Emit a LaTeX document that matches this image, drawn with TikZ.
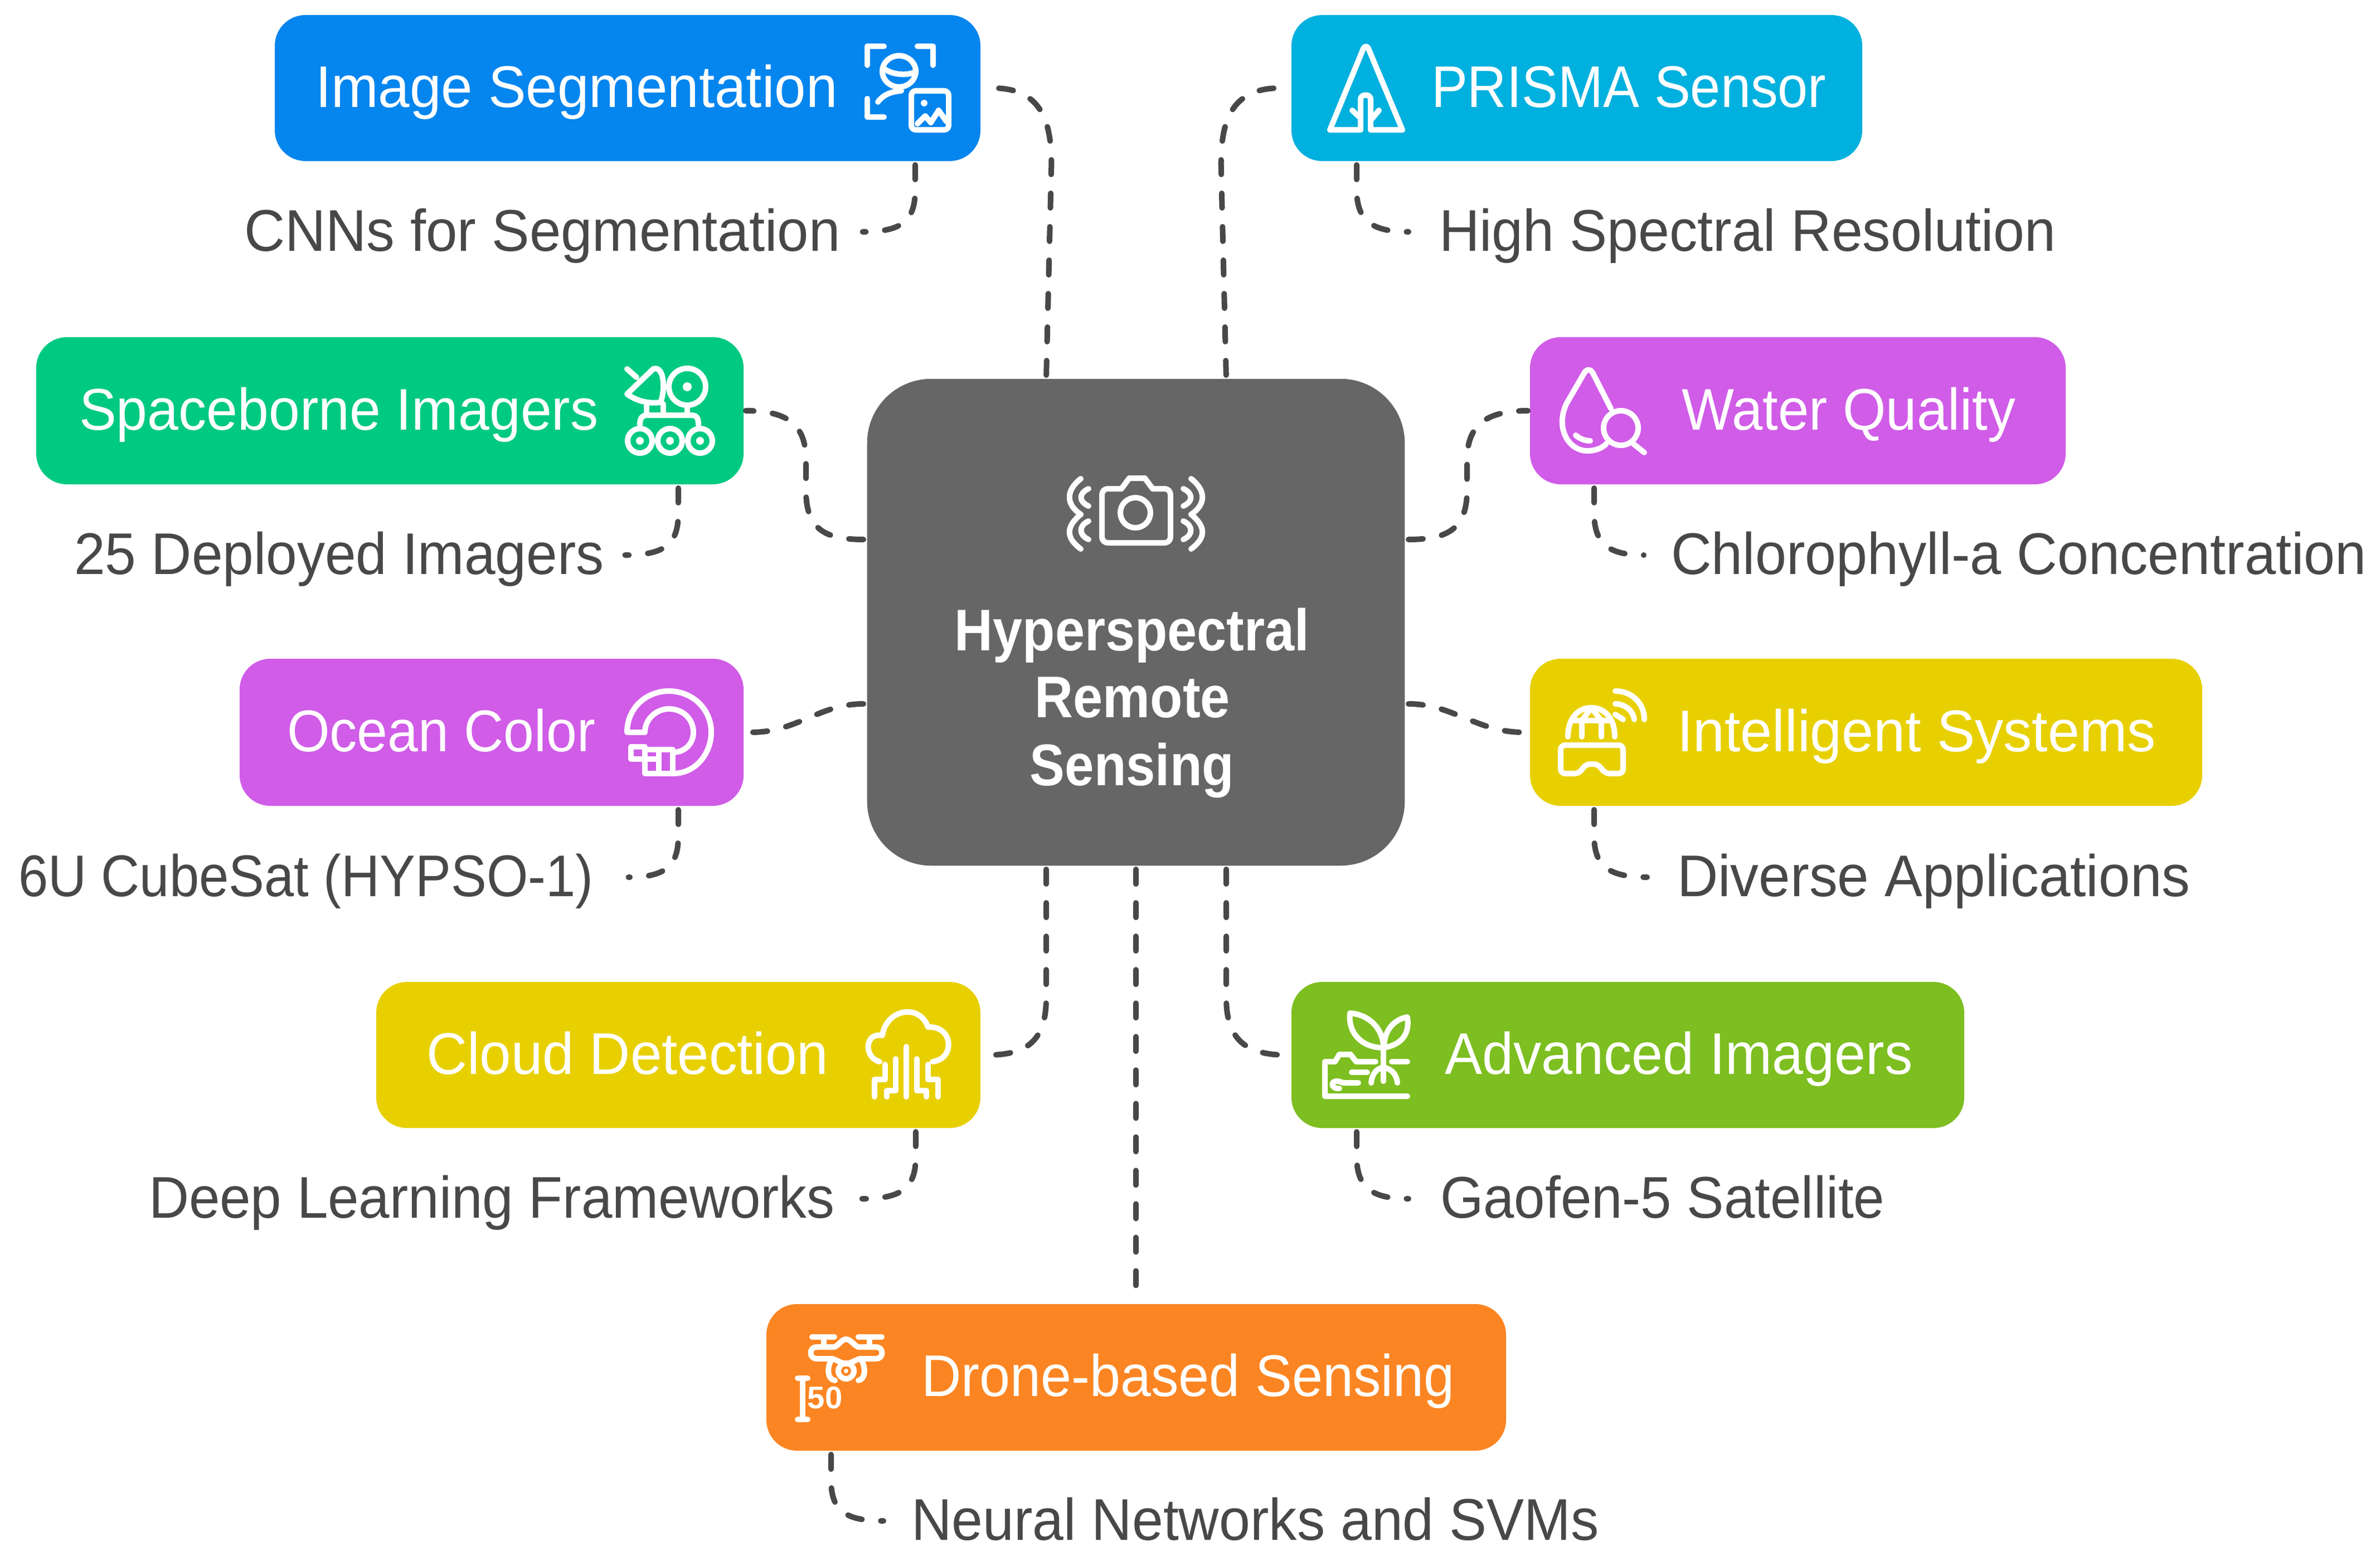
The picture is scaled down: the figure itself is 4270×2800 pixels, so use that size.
\documentclass[tikz,border=0pt]{standalone}
\usepackage{fontspec}
\usepackage{graphicx}
\setmainfont{Liberation Sans}
\definecolor{cblue}{HTML}{0585EE}
\definecolor{ccyan}{HTML}{00B0DE}
\definecolor{cgreen}{HTML}{00C982}
\definecolor{cpurple}{HTML}{D05CE8}
\definecolor{cyellow}{HTML}{E8D000}
\definecolor{clime}{HTML}{7DBE20}
\definecolor{corange}{HTML}{FB8522}
\definecolor{cgray}{HTML}{666666}
\definecolor{cink}{HTML}{484848}
\tikzset{
  box/.style={rectangle,rounded corners=0.55cm,draw=none,inner sep=0pt,outer sep=0pt},
  hub/.style={box,rounded corners=1.15cm},
  lab/.style={font=\fontsize{30}{36}\selectfont,text=white,inner sep=0pt,outer sep=0pt,text height=23.3pt,text depth=3.5pt,anchor=west},
  sublab/.style={lab,text=cink},
  hublab/.style={lab,font=\fontsize{30}{36}\selectfont\bfseries,anchor=center},
  conn/.style={draw=cink,line width=0.1cm,line cap=round,dash pattern=on 0.26cm off 0.34cm,shorten <=0.07cm},
  icon/.style={draw=white,line width=0.1cm,line cap=round,line join=round},
}
\newcommand\bx[6]{\node[box,fill=#2,minimum width=#5*0.01cm,minimum height=#6*0.01cm] (#1) at (#3,#4) {};}
\newcommand\lb[6]{\node[#2] (#1) at (#3,#4) {\resizebox{#5cm}{\height}{#6}};}
\begin{document}
\begin{tikzpicture}[x=0.01cm,y=-0.01cm]
\useasboundingbox (0,0) rectangle (4270,2800);

% boxes
\node[hub,fill=cgray,minimum width=9.64cm,minimum height=8.73cm] (hub) at (2038,1116.5) {};
\bx{seg}{cblue}{1126}{158}{1266}{262}
\bx{prisma}{ccyan}{2829}{158}{1024}{262}
\bx{space}{cgreen}{699.5}{737}{1269}{264}
\bx{water}{cpurple}{3225.5}{737}{961}{264}
\bx{ocean}{cpurple}{882}{1314}{904}{264}
\bx{intel}{cyellow}{3348}{1314}{1206}{264}
\bx{cloud}{cyellow}{1217}{1893}{1084}{262}
\bx{adv}{clime}{2920.5}{1893}{1207}{262}
\bx{drone}{corange}{2038.5}{2471.5}{1327}{263}

% labels
\lb{segL}{lab}{566}{158}{9.36}{Image Segmentation}
\lb{prismaL}{lab}{2568}{158}{7.08}{PRISMA Sensor}
\lb{spaceL}{lab}{142}{737}{9.31}{Spaceborne Imagers}
\lb{waterL}{lab}{3017}{737}{5.99}{Water Quality}
\lb{oceanL}{lab}{515}{1314}{5.53}{Ocean Color}
\lb{intelL}{lab}{3009}{1314}{8.58}{Intelligent Systems}
\lb{cloudL}{lab}{765}{1893}{7.21}{Cloud Detection}
\lb{advL}{lab}{2592}{1893}{8.39}{Advanced Imagers}
\lb{droneL}{lab}{1653}{2471}{9.56}{Drone-based Sensing}
\lb{segS}{sublab}{438}{416}{10.69}{CNNs for Segmentation}
\lb{prismaS}{sublab}{2582}{416}{11.06}{High Spectral Resolution}
\lb{spaceS}{sublab}{133}{996}{9.50}{25 Deployed Imagers}
\lb{waterS}{sublab}{2998}{996}{12.47}{Chlorophyll-a Concentration}
\lb{oceanS}{sublab}{33}{1574}{10.31}{6U CubeSat (HYPSO-1)}
\lb{intelS}{sublab}{3009}{1574}{9.20}{Diverse Applications}
\lb{cloudS}{sublab}{267}{2151}{12.30}{Deep Learning Frameworks}
\lb{advS}{sublab}{2584}{2151}{7.97}{Gaofen-5 Satellite}
\lb{droneS}{sublab}{1635}{2729}{12.33}{Neural Networks and SVMs}
\lb{hubA}{hublab}{2031}{1133}{6.36}{Hyperspectral}
\lb{hubB}{hublab}{2032}{1253}{3.50}{Remote}
\lb{hubC}{hublab}{2031}{1375}{3.66}{Sensing}

% ports on the hub
\coordinate (hN1) at (1877,680);
\coordinate (hN2) at (2200,680);
\coordinate (hW1) at (1556,968);
\coordinate (hW2) at (1556,1263);
\coordinate (hE1) at (2520,968);
\coordinate (hE2) at (2520,1263);
\coordinate (hS1) at (1877,1553);
\coordinate (hS2) at (2038,1553);
\coordinate (hS3) at (2200,1553);
% ports under the boxes
\coordinate (segB) at (1642,289);
\coordinate (prismaB) at (2434,289);
\coordinate (spaceB) at (1217,869);
\coordinate (waterB) at (2860,869);
\coordinate (oceanB) at (1217,1446);
\coordinate (intelB) at (2860,1446);
\coordinate (cloudB) at (1643,2024);
\coordinate (advB) at (2434,2024);
\coordinate (droneB) at (1491,2603);

% hub connectors
\draw[conn,shorten >=0.22cm] (hN1) -- (1886,310) .. controls (1889,220) and (1870,158) .. (seg.east);
\draw[conn,shorten >=0.2cm] (hN2) -- (2191,310) .. controls (2188,220) and (2207,158) .. (prisma.west);
\draw[conn,shorten >=0.04cm] (hW1) .. controls (1480,968) and (1446,950) .. (1446,880) -- (1446,825) .. controls (1446,760) and (1410,737) .. (space.east);
\draw[conn,shorten >=0.04cm] (hE1) .. controls (2596,968) and (2632,950) .. (2632,880) -- (2632,825) .. controls (2632,760) and (2670,737) .. (water.west);
\draw[conn,shorten >=0.14cm] (hW2) .. controls (1470,1263) and (1430,1314) .. (ocean.east);
\draw[conn,shorten >=0.12cm] (hE2) .. controls (2606,1263) and (2650,1314) .. (intel.west);
\draw[conn,shorten >=0.14cm] (hS1) -- (1877,1790) .. controls (1877,1860) and (1850,1893) .. (cloud.east);
\draw[conn,shorten >=0.1cm] (hS3) -- (2200,1790) .. controls (2200,1860) and (2230,1893) .. (adv.west);
\draw[conn,shorten >=0.18cm] (hS2) -- (drone.north -| hS2);

% sub connectors
\draw[conn,shorten >=0.40cm] (segB) -- (1642,340) .. controls (1642,395) and (1620,416) .. (segS.east);
\draw[conn,shorten >=0.55cm] (prismaB) -- (2434,340) .. controls (2434,395) and (2460,416) .. (prismaS.west);
\draw[conn,shorten >=0.38cm] (spaceB) -- (1217,920) .. controls (1217,975) and (1195,996) .. (spaceS.east);
\draw[conn,shorten >=0.49cm] (waterB) -- (2860,920) .. controls (2860,975) and (2885,996) .. (waterS.west);
\draw[conn,shorten >=0.63cm] (oceanB) -- (1217,1500) .. controls (1217,1553) and (1195,1574) .. (oceanS.east);
\draw[conn,shorten >=0.54cm] (intelB) -- (2860,1500) .. controls (2860,1553) and (2885,1574) .. (intelS.west);
\draw[conn,shorten >=0.49cm] (cloudB) -- (1643,2075) .. controls (1643,2130) and (1620,2151) .. (cloudS.east);
\draw[conn,shorten >=0.57cm] (advB) -- (2434,2075) .. controls (2434,2130) and (2460,2151) .. (advS.west);
\draw[conn,shorten >=0.50cm] (droneB) -- (1491,2655) .. controls (1491,2710) and (1515,2729) .. (droneS.west);

% icon: hub camera
\begin{scope}[icon]
\draw (2012,877) -- (2026,858) -- (2054,858) -- (2068,877) -- (2088,877) .. controls (2096,877) and (2100,881) .. (2100,889) -- (2100,962) .. controls (2100,970) and (2096,974) .. (2088,974) -- (1989,974) .. controls (1981,974) and (1977,970) .. (1977,962) -- (1977,889) .. controls (1977,881) and (1981,877) .. (1989,877) -- cycle;
\draw (2037,920) circle[x radius=27,y radius=27];
\draw (1939,859) .. controls (1912,880) and (1912,905) .. (1939,923) .. controls (1912,945) and (1912,965) .. (1939,985);
\draw (1953,877) .. controls (1935,885) and (1935,900) .. (1953,908);
\draw (1953,935) .. controls (1935,943) and (1935,960) .. (1953,968);
\draw (2137,859) .. controls (2164,880) and (2164,905) .. (2137,923) .. controls (2164,945) and (2164,965) .. (2137,985);
\draw (2123,877) .. controls (2141,885) and (2141,900) .. (2123,908);
\draw (2123,935) .. controls (2141,943) and (2141,960) .. (2123,968);
\end{scope}

% icon: image segmentation
\begin{scope}[icon]
\draw (1586,83) -- (1556,83) -- (1556,117);
\draw (1646,83) -- (1674,83) -- (1674,117);
\draw (1556,177) -- (1556,210) -- (1586,210);
\draw (1613,128) circle[x radius=30,y radius=28];
\draw (1586,123) .. controls (1600,134) and (1625,136) .. (1640,130);
\draw (1575,183) .. controls (1584,170) and (1600,164) .. (1617,163);
\draw[rounded corners=0.08cm] (1635,163) rectangle (1702,233);
\fill[white] (1658,185) circle[radius=6];
\draw (1646,222) -- (1660,208) -- (1670,220) -- (1684,198) -- (1698,218);
\end{scope}

% icon: PRISMA
\begin{scope}[icon]
\draw (2441,233) -- (2386,233) -- (2446,87) .. controls (2449,82) and (2453,82) .. (2455,87) -- (2516,233) -- (2459,233);
\draw (2441,233) -- (2441,178) .. controls (2441,168) and (2459,168) .. (2459,178) -- (2459,233);
\draw (2426,198) -- (2441,212);
\draw (2474,198) -- (2459,216);
\end{scope}

% icon: spaceborne
\begin{scope}[icon]
\draw (1125,662) -- (1142,677);
\draw (1125,707) -- (1172,662) .. controls (1192,655) and (1194,700) .. (1185,722) .. controls (1160,725) and (1140,718) .. (1125,707) -- cycle;
\draw (1160,745) -- (1160,728);
\draw (1190,745) -- (1190,725);
\draw (1233,694) circle[radius=33];
\fill[white] (1233,694) circle[radius=8];
\draw (1233,727) -- (1233,745);
\draw (1148,762) .. controls (1148,750) and (1152,745) .. (1162,745) -- (1240,745) .. controls (1250,745) and (1253,750) .. (1253,762);
\foreach \wx in {1148,1202,1256} {
  \draw (\wx,791) circle[radius=22];
  \fill[white] (\wx,791) circle[radius=7];
}
\end{scope}

% icon: water
\begin{scope}[icon]
\draw (2890,733) -- (2857,668) .. controls (2852,662) and (2848,662) .. (2843,668) -- (2810,725) .. controls (2790,770) and (2815,809) .. (2848,809) .. controls (2862,809) and (2875,804) .. (2882,796);
\draw (2827,781) .. controls (2835,788) and (2845,791) .. (2853,791);
\draw (2908,768) circle[radius=31];
\draw (2930,796) -- (2950,812);
\end{scope}

% icon: ocean
\begin{scope}[icon]
\draw (1207,1388) .. controls (1250,1388) and (1276,1350) .. (1276,1314) .. controls (1276,1270) and (1240,1240) .. (1200,1240) .. controls (1160,1240) and (1125,1270) .. (1125,1314) -- (1157,1314) .. controls (1157,1290) and (1178,1272) .. (1200,1272) .. controls (1225,1272) and (1244,1290) .. (1244,1314) .. controls (1244,1335) and (1228,1350) .. (1207,1350);
\draw (1132,1340) rectangle (1157,1362);
\draw (1157,1362) rectangle (1182,1388);
\draw (1182,1345) rectangle (1207,1388);
\draw (1157,1345) -- (1182,1345);
\end{scope}

% icon: intelligent systems
\begin{scope}[icon]
\draw (2813,1322) .. controls (2813,1290) and (2830,1270) .. (2855,1270) .. controls (2880,1270) and (2897,1290) .. (2897,1322);
\draw (2820,1293) -- (2890,1293);
\draw (2838,1322) -- (2838,1293) -- (2855,1270) -- (2873,1293) -- (2873,1322);
\draw[rounded corners=0.08cm] (2800,1337) -- (2912,1337) -- (2912,1388) -- (2880,1388) -- (2867,1371) -- (2845,1371) -- (2833,1388) -- (2800,1388) -- cycle;
\draw (2898,1240) .. controls (2928,1240) and (2950,1262) .. (2950,1291);
\draw (2898,1263) .. controls (2915,1263) and (2930,1275) .. (2932,1291);
\draw (2898,1282) -- (2912,1291);
\end{scope}

% icon: cloud detection
\begin{scope}[icon]
\draw (1578,1905) .. controls (1550,1898) and (1550,1852) .. (1583,1858) .. controls (1590,1810) and (1650,1800) .. (1665,1843) .. controls (1710,1840) and (1715,1900) .. (1673,1905);
\draw (1626,1878) -- (1626,1968);
\draw (1607,1900) -- (1607,1957) -- (1591,1957) -- (1591,1968);
\draw (1645,1900) -- (1645,1957) -- (1662,1957) -- (1662,1968);
\draw (1588,1910) -- (1588,1937) -- (1569,1937) -- (1569,1968);
\draw (1665,1910) -- (1665,1937) -- (1683,1937) -- (1683,1968);
\end{scope}

% icon: advanced imagers
\begin{scope}[icon]
\draw (2482,1880) .. controls (2440,1880) and (2418,1850) .. (2422,1818) .. controls (2455,1820) and (2482,1845) .. (2482,1880) -- cycle;
\draw (2483,1880) .. controls (2510,1875) and (2530,1860) .. (2525,1825) .. controls (2505,1828) and (2483,1845) .. (2483,1880);
\draw (2482,1880) -- (2482,1940);
\draw (2468,1905) -- (2433,1905) -- (2423,1892) -- (2403,1892) -- (2395,1905) -- (2377,1905) -- (2377,1967) -- (2525,1967);
\draw (2497,1905) -- (2525,1905);
\draw (2425,1924) -- (2453,1924);
\draw (2437,1943) -- (2410,1943) .. controls (2385,1932) and (2385,1955) .. (2403,1953);
\draw (2460,1943) .. controls (2462,1925) and (2470,1918) .. (2482,1915) .. controls (2495,1918) and (2505,1925) .. (2507,1943);
\end{scope}

% icon: drone
\begin{scope}[icon]
\draw (1457,2399) -- (1497,2399);
\draw (1540,2399) -- (1582,2399);
\draw (1478,2399) -- (1478,2415);
\draw (1560,2399) -- (1560,2415);
\draw (1465,2417) -- (1497,2417) .. controls (1505,2414) and (1510,2403) .. (1518,2403) .. controls (1526,2403) and (1532,2414) .. (1540,2417) -- (1572,2417) .. controls (1586,2417) and (1586,2438) .. (1572,2438) -- (1543,2438) .. controls (1535,2440) and (1525,2447) .. (1518,2447) .. controls (1511,2447) and (1501,2440) .. (1493,2438) -- (1465,2438) .. controls (1451,2438) and (1451,2417) .. (1465,2417) -- cycle;
\draw (1518,2460) circle[radius=14];
\fill[white] (1518,2460) circle[radius=4];
\draw (1490,2443) .. controls (1484,2455) and (1484,2475) .. (1498,2477);
\draw (1547,2443) .. controls (1553,2455) and (1553,2475) .. (1540,2477);
\draw (1440,2473) -- (1440,2547);
\draw (1431,2473) -- (1449,2473);
\draw (1431,2547) -- (1449,2547);
\end{scope}
\node[lab,font=\fontsize{16}{20}\selectfont\bfseries,text height=12pt,text depth=0pt,anchor=center] (droneN) at (1480,2506) {50};
\end{tikzpicture}
\end{document}
